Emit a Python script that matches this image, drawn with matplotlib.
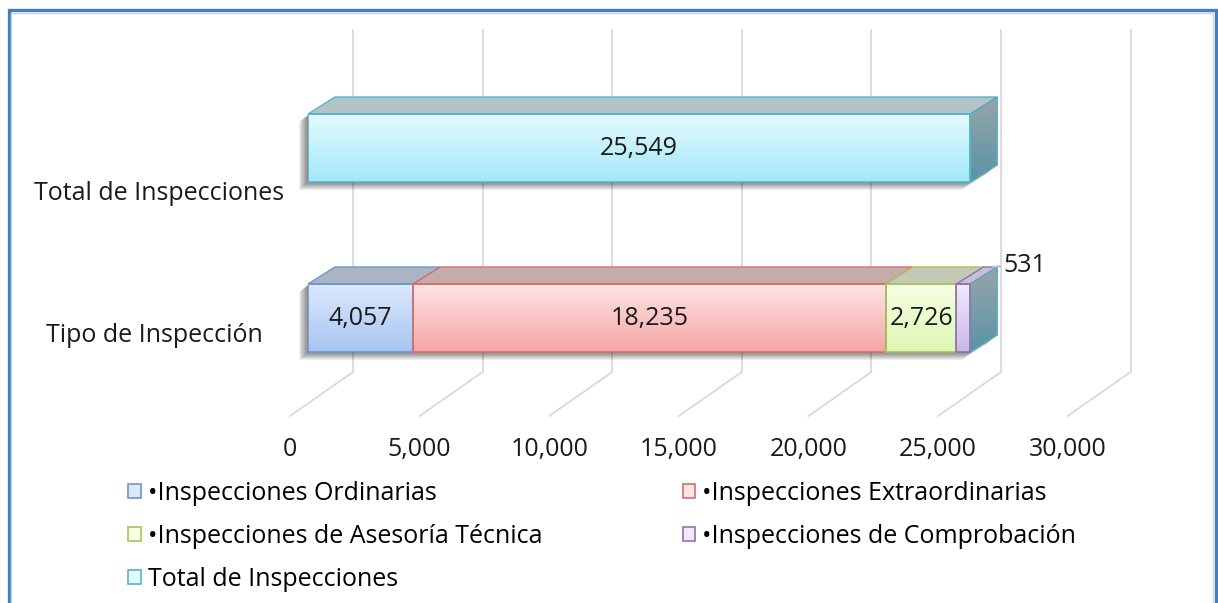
import matplotlib
matplotlib.use("Agg")
import matplotlib.pyplot as plt
import numpy as np
from matplotlib.patches import Polygon, Patch, Rectangle
from matplotlib.lines import Line2D
from matplotlib.transforms import IdentityTransform, ScaledTranslation
from matplotlib.colors import LinearSegmentedColormap

# ---------------- data ----------------
categories = ["Tipo de Inspección", "Total de Inspecciones"]
series_names = ["•Inspecciones Ordinarias", "•Inspecciones Extraordinarias",
                "•Inspecciones de Asesoría Técnica", "•Inspecciones de Comprobación",
                "Total de Inspecciones"]
ordinarias = [4057, 0]
extraordinarias = [18235, 0]
asesoria = [2726, 0]
comprobacion = [531, 0]
total = [0, 25549]
x_ticks = [0, 5000, 10000, 15000, 20000, 25000, 30000]

series_values = [ordinarias, extraordinarias, asesoria, comprobacion, total]

# ---------------- styles ----------------
grad_top = ["#dce9fc", "#ffe4e4", "#f6ffe6", "#f1e9fb", "#e3fafe"]
grad_bot = ["#a7c4f0", "#f5a5a5", "#def7b2", "#cbb8e6", "#a4e8f8"]
edges = ["#6d94cf", "#d46e6c", "#a6c35e", "#8e72b4", "#55b4cc"]
top_faces = ["#aab4c2", "#c6abab", "#c3c9b5", "#c9c0d6", "#b2c3c7"]
side_top, side_bot = "#97a5a9", "#5a93a6"
FONT = "Open Sans"
FS = 18

plt.rcParams['font.family'] = [FONT, 'DejaVu Sans']

W, H = 1218, 603
fig = plt.figure(figsize=(W / 100, H / 100), dpi=100)
ax = fig.add_axes([308 / W, 200 / H, 777.6 / W, 340 / H])
for s in ax.spines.values():
    s.set_visible(False)

BAR_H = 0.4
DX, DY = 27, 17          # bar depth in pixels
WALL_DX = 45             # back wall offset
FLOOR_DX = -18           # floor front offset
WALL_TOP = H - 30
WALL_BOT = H - 372
FLOOR_FRONT = H - 416

ypos = np.arange(len(categories))
ax.set_xlim(0, 30000)
ax.set_ylim(-0.5, 1.5)

idt = IdentityTransform()
T = ax.transData
Tinv = T.inverted()

# gridlines on back wall + floor
for v in x_ticks:
    xd = T.transform((v, 0))[0]
    ax.add_line(Line2D([xd + WALL_DX, xd + WALL_DX], [WALL_TOP, WALL_BOT],
                       transform=idt, color="#d9d9d9", lw=1.3, zorder=0, clip_on=False))
    ax.add_line(Line2D([xd + FLOOR_DX, xd + WALL_DX], [FLOOR_FRONT, WALL_BOT],
                       transform=idt, color="#d9d9d9", lw=1.3, zorder=0, clip_on=False))

totals = np.sum(np.array(series_values), axis=0)
d = np.array([DX, DY])

# shadows
for j in ypos:
    fbl = np.array(T.transform((0, j - BAR_H / 2)))
    ftl = np.array(T.transform((0, j + BAR_H / 2)))
    ftr = np.array(T.transform((totals[j], j + BAR_H / 2)))
    fbr = np.array(T.transform((totals[j], j - BAR_H / 2)))
    pts = np.array([fbl, fbr, fbr + d, ftr + d, ftl + d, ftl])
    for k in range(1, 11):
        sh = Polygon(pts + np.array([-k * 0.9, -k * 0.8]), closed=True, transform=idt,
                     facecolor="black", edgecolor="none", alpha=0.055, zorder=1, clip_on=False)
        ax.add_patch(sh)

grad = np.linspace(0, 1, 128).reshape(-1, 1)
lefts = np.zeros(len(categories))
for i, vals in enumerate(series_values):
    cmap = LinearSegmentedColormap.from_list(f"g{i}", [grad_bot[i], grad_top[i]])
    for j, v in enumerate(vals):
        if v <= 0:
            continue
        left = lefts[j]
        bars = ax.barh(j, v, left=left, height=BAR_H, facecolor="none",
                       edgecolor=edges[i], lw=1.2, zorder=3)
        im = ax.imshow(grad, extent=[left, left + v, j - BAR_H / 2, j + BAR_H / 2],
                       origin="lower", cmap=cmap, aspect="auto", zorder=2,
                       interpolation="bicubic")
        im.set_clip_path(bars.patches[0])
        # top face
        p0 = np.array(T.transform((left, j + BAR_H / 2)))
        p1 = np.array(T.transform((left + v, j + BAR_H / 2)))
        ax.add_patch(Polygon([p0, p1, p1 + d, p0 + d], closed=True, transform=idt,
                             facecolor=top_faces[i], edgecolor=edges[i], lw=1.0,
                             zorder=2.5, clip_on=False))
        # side face for last segment (gradient)
        if np.isclose(left + v, totals[j]):
            pb = np.array(T.transform((left + v, j - BAR_H / 2)))
            pt = np.array(T.transform((left + v, j + BAR_H / 2)))
            side = Polygon([pb, pt, pt + d, pb + d], closed=True, transform=idt,
                           facecolor="none", edgecolor="#5aa9c1", lw=1.0,
                           zorder=2.7, clip_on=False)
            ax.add_patch(side)
            lo = Tinv.transform(pb)
            hi = Tinv.transform(pt + d)
            scmap = LinearSegmentedColormap.from_list("side", [side_bot, side_top])
            sim = ax.imshow(grad, extent=[lo[0], hi[0], lo[1], hi[1]], origin="lower",
                            cmap=scmap, aspect="auto", zorder=2.6, interpolation="bicubic")
            sim.set_clip_path(side)
        # data labels
        if i == 3:
            xy = np.array(T.transform((left + v / 2, j + BAR_H / 2))) + d
            ax.annotate(f"{v:,}", xy=xy, xycoords="figure pixels",
                        xytext=(13, 2), textcoords="offset pixels",
                        ha="left", va="center", fontsize=FS, color="#1a1a1a",
                        arrowprops=dict(arrowstyle="-", color="#c0c0c0", lw=1.5,
                                        shrinkA=0, shrinkB=2), zorder=5)
        else:
            ax.text(left + v / 2, j, f"{v:,}", ha="center", va="center",
                    fontsize=FS, color="#1a1a1a", zorder=5)
        lefts[j] += v

ax.set_xlim(0, 30000)
ax.set_ylim(-0.5, 1.5)

# x ticks
ax.set_xticks(x_ticks)
ax.set_xticklabels([f"{t:,}" for t in x_ticks], fontsize=FS, color="#1a1a1a")
ax.tick_params(axis="x", length=0, pad=24.5)
for lab in ax.get_xticklabels():
    lab.set_transform(lab.get_transform() + ScaledTranslation(FLOOR_DX / 100, 0, fig.dpi_scale_trans))

# y ticks (category labels)
ax.set_yticks(ypos)
ax.set_yticklabels(categories, fontsize=FS, color="#1a1a1a", ha="center")
ax.tick_params(axis="y", length=0, pad=151 * 0.72)
offs = [(-3, -14), (2, -42)]
for lab, (ox, oy) in zip(ax.get_yticklabels(), offs):
    lab.set_transform(lab.get_transform() + ScaledTranslation(ox / 100, oy / 100, fig.dpi_scale_trans))

# legend
handles = [Patch(facecolor=grad_top[i], edgecolor=edges[i], lw=1.2) for i in range(5)]
order = [0, 2, 4, 1, 3]
fig.legend([handles[k] for k in order], [series_names[k] for k in order],
           loc="upper left", bbox_to_anchor=(128 / W, (H - 481) / H),
           bbox_transform=fig.transFigure, ncol=2, frameon=False,
           fontsize=FS, handlelength=0.5, handleheight=0.5, handletextpad=0.3,
           labelspacing=0.72, columnspacing=5.6, borderpad=0, borderaxespad=0)

# outer frame
fig.add_artist(Rectangle((8.5, -20), 1207, H - 10 + 20, transform=idt, fill=False,
                         edgecolor="#4a7ebb", lw=2.4, zorder=10))
fig.add_artist(Rectangle((11, -20), 1202, H - 13 + 20, transform=idt, fill=False,
                         edgecolor="#c6d9f1", lw=1.0, zorder=10))

fig.savefig("out.png", dpi=100)
